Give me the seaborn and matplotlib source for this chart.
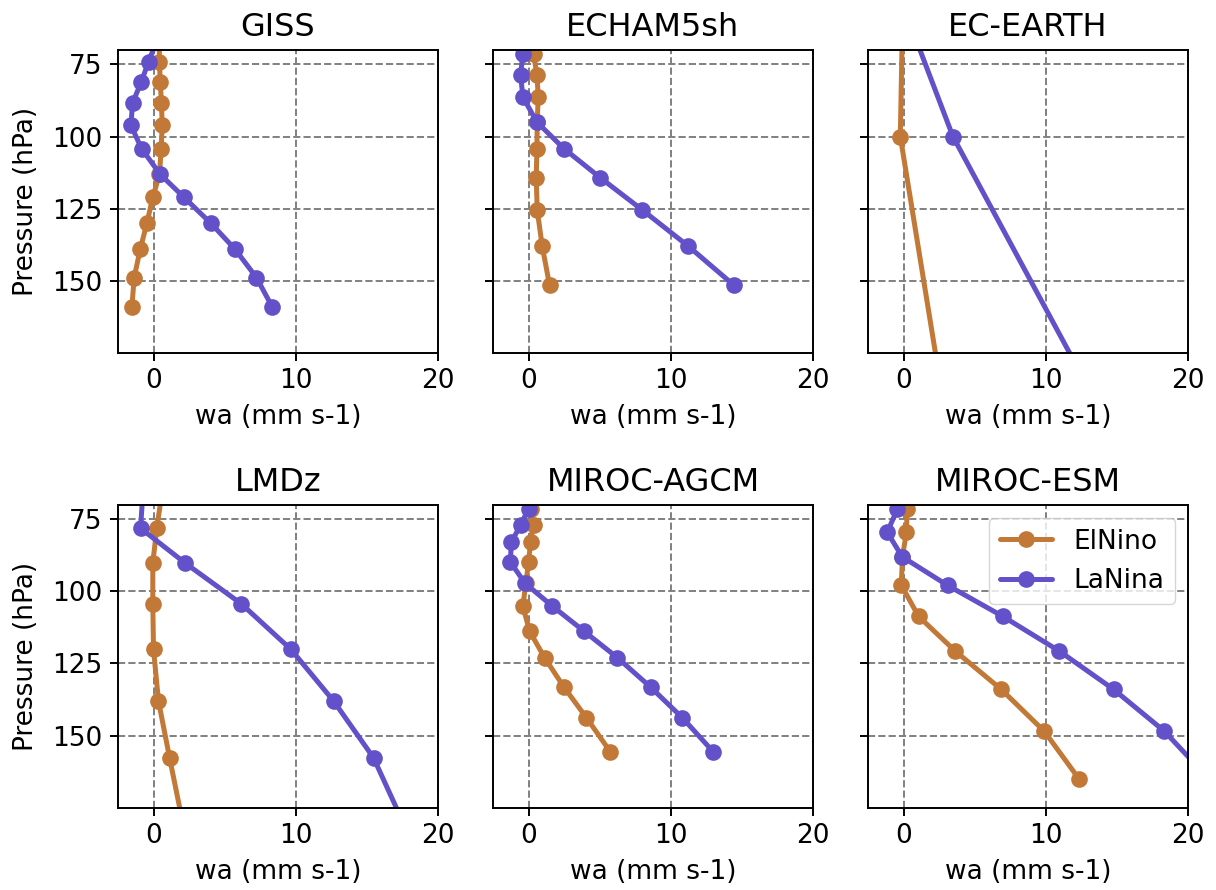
import numpy as np
import pandas as pd
import matplotlib
matplotlib.use("Agg")
import matplotlib.pyplot as plt
import seaborn as sns

# ---- data ----
models = ["GISS", "ECHAM5sh", "EC-EARTH", "LMDz", "MIROC-AGCM", "MIROC-ESM"]

giss_p = [66, 74.0, 81.1, 88.3, 96.1, 104.2, 113.1, 121.1, 130.1, 139.0, 148.9, 159.2]
giss_el = [0.40, 0.42, 0.47, 0.56, 0.61, 0.54, 0.42, -0.05, -0.47, -0.93, -1.36, -1.52]
giss_la = [0.30, -0.35, -0.86, -1.47, -1.59, -0.84, 0.47, 2.15, 4.04, 5.72, 7.24, 8.36]

echam_p = [71.5, 78.5, 86.3, 95.0, 104.2, 114.3, 125.5, 138.0, 151.6]
echam_el = [0.35, 0.59, 0.68, 0.61, 0.59, 0.54, 0.61, 0.96, 1.48]
echam_la = [-0.40, -0.56, -0.40, 0.59, 2.49, 5.05, 8.01, 11.23, 14.45]

ecearth_p = [50, 100, 200]
ecearth_el = [-0.04, -0.23, 3.06]
ecearth_la = [-0.39, 3.47, 14.4]

lmdz_p = [66, 78.1, 90.2, 104.3, 120.1, 138.0, 157.7, 185]
lmdz_el = [0.59, 0.23, -0.05, -0.05, 0.00, 0.35, 1.13, 2.25]
lmdz_la = [-0.75, -0.91, 2.23, 6.17, 9.66, 12.66, 15.47, 18.0]

agcm_p = [71.4, 77.0, 83.0, 89.9, 97.2, 105.1, 113.8, 123.0, 133.2, 143.8, 155.7]
agcm_el = [0.19, 0.35, 0.14, 0.00, -0.19, -0.40, 0.07, 1.13, 2.49, 4.07, 5.76]
agcm_la = [0.00, -0.56, -1.22, -1.27, -0.24, 1.67, 3.90, 6.25, 8.58, 10.81, 13.0]

esm_p = [71.6, 79.5, 88.0, 97.9, 108.7, 120.7, 134.0, 148.5, 165.2]
esm_el = [0.25, 0.20, -0.08, -0.16, 1.06, 3.63, 6.87, 9.89, 12.36]
esm_la = [-0.45, -1.15, -0.10, 3.09, 6.99, 10.95, 14.77, 18.34, 21.5]

series = {
    "GISS": (giss_p, giss_el, giss_la),
    "ECHAM5sh": (echam_p, echam_el, echam_la),
    "EC-EARTH": (ecearth_p, ecearth_el, ecearth_la),
    "LMDz": (lmdz_p, lmdz_el, lmdz_la),
    "MIROC-AGCM": (agcm_p, agcm_el, agcm_la),
    "MIROC-ESM": (esm_p, esm_el, esm_la),
}

phases = ["ElNino", "LaNina"]
colors = {"ElNino": "#C27837", "LaNina": "#6251C9"}
yticks = [75, 100, 125, 150]
xticks = [0, 10, 20]

# ---- plotting ----
sns.set_style("ticks")
plt.rcParams["font.family"] = ["DejaVu Sans"]
plt.rcParams.update({
    "text.color": "black",
    "axes.labelcolor": "black",
    "xtick.color": "black",
    "ytick.color": "black",
    "axes.edgecolor": "black",
})

FS = 19

fig, axes = plt.subplots(2, 3, figsize=(12.16, 8.9), dpi=100, sharey=True)
fig.subplots_adjust(left=0.097, right=0.977, top=0.9438, bottom=0.0925,
                    wspace=0.172, hspace=0.502)

for ax, name in zip(axes.flat, models):
    p, el, la = series[name]
    for ph, vals in zip(phases, [el, la]):
        df = pd.DataFrame({"wa": vals, "p": p})
        sns.lineplot(data=df, x="wa", y="p", ax=ax, sort=False, estimator=None,
                     color=colors[ph], marker="o", markersize=12,
                     markeredgewidth=0, linewidth=3.6, label=ph, legend=False)
    ax.set_xlim(-2.5, 20)
    ax.set_ylim(175, 70)
    ax.set_xticks(xticks)
    ax.set_yticks(yticks)
    ax.grid(True, color="#808080", linestyle="--", linewidth=1.4)
    ax.set_axisbelow(True)
    for s in ax.spines.values():
        s.set_visible(True)
        s.set_linewidth(1.4)
        s.set_color("black")
    ax.tick_params(axis="both", labelsize=FS, length=6, width=1.4, pad=5,
                   direction="out", colors="black")
    ax.set_title(name, fontsize=23, pad=10, color="black")
    ax.set_xlabel("wa (mm s-1)", fontsize=FS, color="black", labelpad=7)
    if ax in axes[:, 0]:
        ax.set_ylabel("Pressure (hPa)", fontsize=FS, color="black", labelpad=10)
    else:
        ax.set_ylabel("")
    leg = ax.get_legend()
    if leg is not None:
        leg.remove()

axes[1, 2].legend(loc="upper right", fontsize=FS, frameon=True,
                  borderaxespad=0.5)

fig.savefig("out.png", dpi=100)
